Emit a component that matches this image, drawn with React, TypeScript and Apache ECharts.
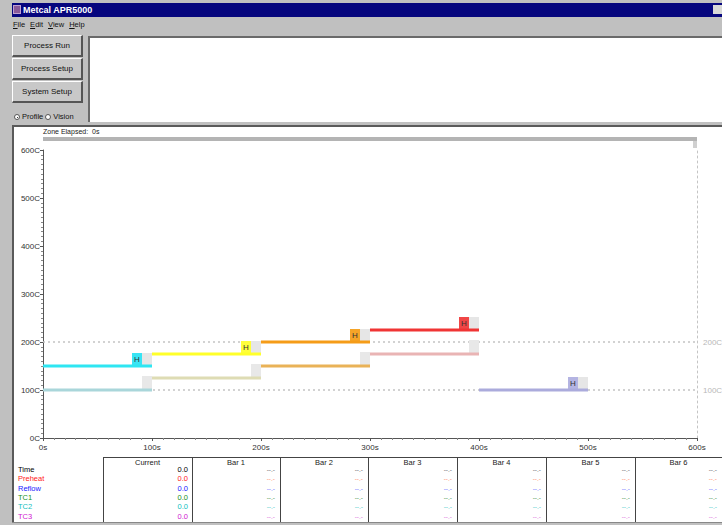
import React, { useEffect, useRef } from "react";
import * as echarts from "echarts";

// ---- chart data ----
const segStart = [0, 0, 100, 100, 200, 200, 300, 300, 400];
const segEnd = [100, 100, 200, 200, 300, 300, 400, 400, 500];
const segTemp = [150, 100, 175, 125, 200, 150, 225, 175, 100];
const segHasH = [1, 0, 1, 0, 1, 0, 1, 0, 1];
const segColor = ["#2ee6f2", "#a9d6da", "#ffff2a", "#dedcb4", "#f59c18", "#e9b257", "#f03434", "#e9b4b4", "#ababdc"];
const hBoxColor = ["#38e4f4", "", "#ffff3a", "", "#f5a428", "", "#f04646", "", "#b4b4e2"];
const limitTemps = [200, 100];
const xTickLabels = ["0s", "100s", "200s", "300s", "400s", "500s", "600s"];
const yTickLabels = ["0C", "100C", "200C", "300C", "400C", "500C", "600C"];

// ---- table data ----
const rowLabels = ["Time", "Preheat", "Reflow", "TC1", "TC2", "TC3"];
const rowColors = ["#000000", "#ff2020", "#2020ff", "#209020", "#10c0c0", "#d020d0"];
const paleColors = ["#777777", "#ff9a7a", "#8080ff", "#60a060", "#60d0d0", "#e080e0"];
const currentValues = ["0.0", "0.0", "0.0", "0.0", "0.0", "0.0"];
const colHeaders = ["Current", "Bar 1", "Bar 2", "Bar 3", "Bar 4", "Bar 5", "Bar 6"];
const barValue = "--.-";

const FONT = '"Liberation Sans", Arial, sans-serif';
const colEdges = [103, 192, 280, 368, 457, 546, 635, 722];

function Btn({ top, label }: { top: number; label: string }) {
  return (
    <div
      style={{
        position: "absolute", left: 12, top, width: 71, height: 22, boxSizing: "border-box",
        background: "#c8c8c8", borderTop: "1px solid #fff", borderLeft: "1px solid #fff",
        borderRight: "2px solid #555", borderBottom: "2px solid #555",
        display: "flex", alignItems: "center", justifyContent: "center", fontSize: 8, color: "#111",
      }}
    >
      {label}
    </div>
  );
}

export default function App() {
  const ref = useRef<HTMLDivElement>(null);
  useEffect(() => {
    if (!ref.current) return;
    const chart = echarts.init(ref.current, undefined, { renderer: "svg" });
    const lineSeries = segTemp.map((t, i) => ({
      type: "line",
      data: [[segStart[i], t], [segEnd[i], t]],
      symbol: "none",
      lineStyle: { color: segColor[i], width: 3 },
      z: 3,
      silent: true,
    }));
    const boxData = segTemp.map((t, i) => [segEnd[i], t, segHasH[i], i]);
    chart.setOption({
      animation: false,
      backgroundColor: "transparent",
      textStyle: { fontFamily: FONT },
      grid: { left: 43, right: 25, top: 150, bottom: 87 },
      xAxis: {
        type: "value", min: 0, max: 600, interval: 100,
        axisLine: { lineStyle: { color: "#555", width: 1 } },
        axisTick: { show: true, length: 3, lineStyle: { color: "#555" } },
        minorTick: { show: true, splitNumber: 10, length: 2, lineStyle: { color: "#888" } },
        axisLabel: { formatter: (v: number) => xTickLabels[v / 100], fontSize: 8, color: "#333", margin: 5 },
        splitLine: { show: false },
      },
      yAxis: [
        {
          type: "value", min: 0, max: 600, interval: 100,
          axisLine: { show: true, lineStyle: { color: "#555", width: 1 } },
          axisTick: { show: true, length: 3, lineStyle: { color: "#555" } },
          minorTick: { show: true, splitNumber: 10, length: 2, lineStyle: { color: "#888" } },
          axisLabel: { formatter: (v: number) => yTickLabels[v / 100], fontSize: 8, color: "#333", margin: 3 },
          splitLine: { show: false },
        },
        {
          type: "value", min: 0, max: 600, interval: 100, position: "right",
          axisLine: { show: true, lineStyle: { color: "#c4c4c4", type: [2, 3], width: 1 } },
          axisTick: { show: false }, axisLabel: { show: false }, splitLine: { show: false },
        },
      ],
      graphic: [
        { type: "rect", shape: { x: 43, y: 137, width: 654, height: 4 }, style: { fill: "#b4b4b4" }, silent: true },
        { type: "rect", shape: { x: 693, y: 141, width: 4, height: 7 }, style: { fill: "#d0d0d0" }, silent: true },
        { type: "text", x: 43, y: 128, style: { text: "Zone Elapsed:  0s", fontSize: 7, fill: "#222", fontFamily: FONT }, silent: true },
      ],
      series: [
        {
          type: "line", data: [], symbol: "none", silent: true,
          markLine: {
            silent: true, symbol: "none", z: 1,
            lineStyle: { type: [2, 3], color: "#c4c4c4", width: 1.5 },
            label: { position: "end", formatter: "{c}C", color: "#b8b8b8", fontSize: 8, distance: 6 },
            data: limitTemps.map((t) => ({ yAxis: t })),
          },
          z: 1,
        },
        ...lineSeries,
        {
          type: "custom",
          silent: true,
          z: 2,
          data: boxData,
          renderItem: (params: any, api: any) => {
            const p = api.coord([api.value(0), api.value(1)]);
            const hasH = api.value(2);
            const idx = api.value(3);
            const children: any[] = [];
            if (hasH) {
              children.push({ type: "rect", shape: { x: p[0] - 10, y: p[1] - 13, width: 10, height: 12 }, style: { fill: "#e6e6e6" } });
              children.push({ type: "rect", shape: { x: p[0] - 20, y: p[1] - 13, width: 10, height: 12 }, style: { fill: hBoxColor[idx] } });
              children.push({
                type: "text", x: p[0] - 15, y: p[1] - 7,
                style: { text: "H", fontSize: 8, fill: "#333", align: "center", verticalAlign: "middle", fontFamily: FONT },
              });
            } else {
              children.push({ type: "rect", shape: { x: p[0] - 10, y: p[1] - 14, width: 10, height: 13 }, style: { fill: "#e8e8e8" } });
            }
            return { type: "group", children };
          },
        },
      ],
    });
    return () => chart.dispose();
  }, []);

  const rowTop = 466;
  const rowH = 9.3;

  return (
    <div style={{ position: "fixed", left: 0, top: 0, width: 722, height: 525, overflow: "hidden", background: "#c0c0c0", fontFamily: FONT }}>
      {/* title bar */}
      <div style={{ position: "absolute", left: 12, top: 3, width: 710, height: 14, background: "#06067e" }} />
      <div style={{ position: "absolute", left: 13, top: 5, width: 8, height: 9, background: "#8a5a9a", border: "1px solid #c0a0d0", boxSizing: "border-box" }} />
      <div style={{ position: "absolute", left: 23, top: 4, fontSize: 9, fontWeight: "bold", color: "#fff", lineHeight: "12px" }}>Metcal APR5000</div>
      <div style={{ position: "absolute", left: 713, top: 5, width: 9, height: 9, background: "#d8d8d8" }} />
      {/* menu */}
      <div style={{ position: "absolute", left: 13, top: 20, fontSize: 7.5, color: "#111", lineHeight: "10px", whiteSpace: "pre" }}>
        <span style={{ marginRight: 5 }}><u>F</u>ile</span>
        <span style={{ marginRight: 5 }}><u>E</u>dit</span>
        <span style={{ marginRight: 5 }}><u>V</u>iew</span>
        <span><u>H</u>elp</span>
      </div>
      {/* buttons */}
      <Btn top={35} label="Process Run" />
      <Btn top={58} label="Process Setup" />
      <Btn top={81} label="System Setup" />
      <div style={{ position: "absolute", left: 14, top: 112, fontSize: 7.5, color: "#111", lineHeight: "10px", whiteSpace: "pre", display: "flex", alignItems: "center" }}>
        <span style={{ display: "inline-block", width: 6, height: 6, borderRadius: 3, background: "#fff", border: "1px solid #555", marginRight: 2, boxSizing: "border-box", position: "relative" }}>
          <span style={{ position: "absolute", left: 1.5, top: 1.5, width: 1.5, height: 1.5, background: "#000", borderRadius: 1 }} />
        </span>
        <span style={{ marginRight: 2 }}>Profile</span>
        <span style={{ display: "inline-block", width: 6, height: 6, borderRadius: 3, background: "#fff", border: "1px solid #555", marginRight: 2, boxSizing: "border-box" }} />
        <span>Vision</span>
      </div>
      {/* top white panel */}
      <div style={{ position: "absolute", left: 88, top: 36, width: 634, height: 86, background: "#fff", borderTop: "2px solid #6a6a6a", borderLeft: "2px solid #6a6a6a", boxSizing: "border-box" }} />
      {/* main panel */}
      <div style={{ position: "absolute", left: 12, top: 125, width: 710, height: 397, background: "#fff", borderTop: "2px solid #5a5a5a", borderLeft: "2px solid #5a5a5a", boxSizing: "border-box" }} />
      {/* table */}
      <div style={{ position: "absolute", left: colEdges[0], top: 457, width: 722 - colEdges[0], height: 1, background: "#444" }} />
      {colEdges.slice(0, 7).map((x, i) => (
        <div key={"v" + i} style={{ position: "absolute", left: x, top: 457, width: 1, height: 65, background: "#444" }} />
      ))}
      {colHeaders.map((h, i) => (
        <div key={"h" + i} style={{ position: "absolute", left: colEdges[i], top: 458, width: colEdges[i + 1] - colEdges[i], textAlign: "center", fontSize: 7.5, lineHeight: "9px", color: "#222" }}>{h}</div>
      ))}
      {rowLabels.map((r, j) => (
        <React.Fragment key={"r" + j}>
          <div style={{ position: "absolute", left: 18, top: rowTop + j * rowH - 1, fontSize: 7.5, lineHeight: "9px", color: rowColors[j] }}>{r}</div>
          <div style={{ position: "absolute", left: colEdges[0], width: colEdges[1] - colEdges[0] - 4, top: rowTop + j * rowH - 1, textAlign: "right", fontSize: 7.5, lineHeight: "9px", color: rowColors[j] }}>{currentValues[j]}</div>
          {colHeaders.slice(1).map((_, k) => (
            <div key={"b" + k} style={{ position: "absolute", left: colEdges[k + 1], width: colEdges[k + 2] - colEdges[k + 1] - 5, top: rowTop + j * rowH - 1, textAlign: "right", fontSize: 6.5, lineHeight: "9px", color: paleColors[j] }}>{barValue}</div>
          ))}
        </React.Fragment>
      ))}
      <div style={{ position: "absolute", left: 12, top: 522, width: 710, height: 3, background: "#c0c0c0", borderTop: "1px solid #888", boxSizing: "border-box" }} />
      <div ref={ref} style={{ position: "absolute", left: 0, top: 0, width: 722, height: 525 }} />
    </div>
  );
}
